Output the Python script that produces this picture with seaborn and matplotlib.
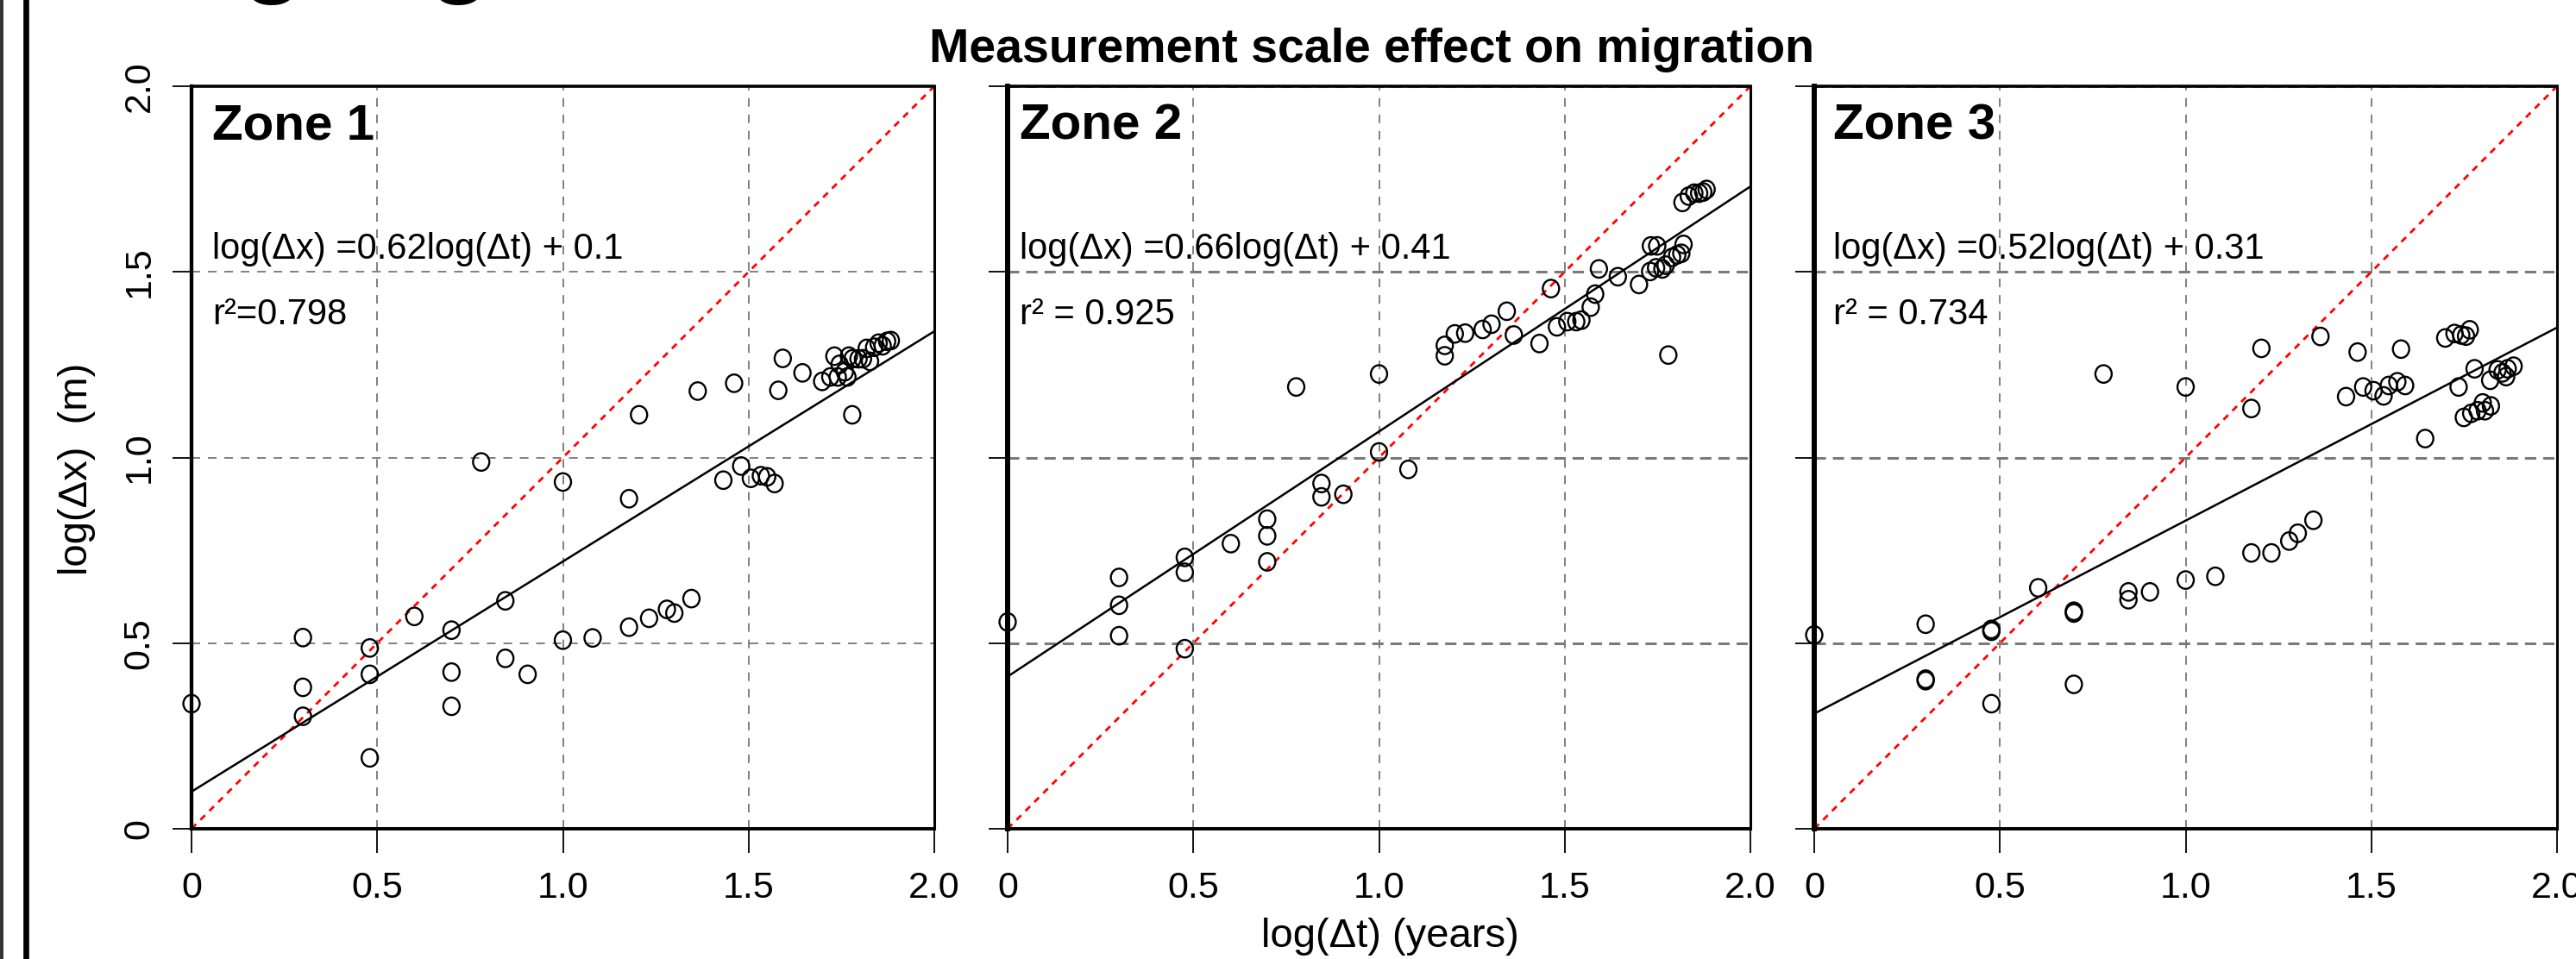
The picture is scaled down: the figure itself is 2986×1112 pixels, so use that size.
import matplotlib
matplotlib.use("Agg")
import numpy as np
import pandas as pd
import matplotlib.pyplot as plt
from matplotlib.path import Path
from matplotlib.transforms import Affine2D
from matplotlib.lines import Line2D
import seaborn as sns

# --- data (log10 of years / metres) ---
zones = ["Zone 1", "Zone 2", "Zone 3"]

x_zone1 = [0.0, 0.30, 0.30, 0.30, 0.48, 0.48, 0.48, 0.60, 0.70, 0.70, 0.70, 0.78, 0.845, 0.845,
           0.905, 1.0, 1.0, 1.08, 1.178, 1.178, 1.205, 1.232, 1.28, 1.30, 1.346, 1.363, 1.432,
           1.461, 1.48, 1.506, 1.533, 1.55, 1.57, 1.58, 1.592, 1.645, 1.698, 1.72, 1.731, 1.74,
           1.745, 1.759, 1.77, 1.766, 1.779, 1.78, 1.796, 1.808, 1.818, 1.827, 1.838, 1.85,
           1.861, 1.873, 1.883]
y_zone1 = [0.337, 0.515, 0.381, 0.303, 0.487, 0.416, 0.191, 0.572, 0.535, 0.422, 0.330, 0.988,
           0.614, 0.459, 0.416, 0.934, 0.508, 0.514, 0.889, 0.543, 1.115, 0.567, 0.591, 0.581,
           0.620, 1.179, 0.939, 1.200, 0.977, 0.944, 0.951, 0.948, 0.930, 1.181, 1.267, 1.228,
           1.205, 1.217, 1.273, 1.217, 1.251, 1.231, 1.273, 1.217, 1.115, 1.266, 1.266, 1.266,
           1.294, 1.259, 1.297, 1.308, 1.301, 1.313, 1.315]

x_zone2 = [0.0, 0.30, 0.30, 0.30, 0.477, 0.477, 0.477, 0.601, 0.699, 0.699, 0.699, 0.777, 0.845,
           0.845, 0.904, 1.0, 1.0, 1.079, 1.177, 1.177, 1.204, 1.232, 1.279, 1.303, 1.344, 1.363,
           1.432, 1.463, 1.479, 1.507, 1.531, 1.545, 1.570, 1.582, 1.592, 1.643, 1.70, 1.732,
           1.749, 1.730, 1.746, 1.763, 1.772, 1.779, 1.789, 1.803, 1.814, 1.82, 1.817, 1.834,
           1.849, 1.862, 1.873, 1.882]
y_zone2 = [0.557, 0.677, 0.602, 0.520, 0.731, 0.691, 0.485, 0.768, 0.834, 0.789, 0.719, 1.190,
           0.930, 0.894, 0.901, 1.225, 1.015, 0.968, 1.302, 1.274, 1.333, 1.335, 1.345, 1.359,
           1.394, 1.330, 1.307, 1.455, 1.352, 1.366, 1.366, 1.370, 1.405, 1.440, 1.508, 1.487,
           1.466, 1.570, 1.570, 1.501, 1.511, 1.508, 1.518, 1.276, 1.539, 1.546, 1.550, 1.574,
           1.687, 1.704, 1.712, 1.712, 1.715, 1.722]

x_zone3 = [0.0, 0.30, 0.30, 0.30, 0.477, 0.477, 0.477, 0.603, 0.699, 0.699, 0.699, 0.779, 0.846,
           0.846, 0.904, 1.0, 1.0, 1.08, 1.177, 1.177, 1.204, 1.231, 1.279, 1.302, 1.344, 1.363,
           1.432, 1.463, 1.478, 1.506, 1.533, 1.547, 1.570, 1.580, 1.591, 1.645, 1.699, 1.724,
           1.735, 1.742, 1.755, 1.765, 1.749, 1.769, 1.778, 1.786, 1.80, 1.806, 1.822, 1.82,
           1.840, 1.853, 1.863, 1.867, 1.883]
y_zone3 = [0.522, 0.551, 0.403, 0.399, 0.537, 0.532, 0.337, 0.649, 0.586, 0.581, 0.389, 1.225,
           0.638, 0.617, 0.638, 1.190, 0.670, 0.680, 1.132, 0.743, 1.294, 0.743, 0.775, 0.796,
           0.831, 1.326, 1.164, 1.284, 1.190, 1.180, 1.166, 1.194, 1.204, 1.292, 1.194, 1.051,
           1.322, 1.334, 1.190, 1.330, 1.327, 1.344, 1.108, 1.119, 1.239, 1.126, 1.147, 1.126,
           1.139, 1.208, 1.236, 1.228, 1.218, 1.239, 1.246]

slopes = [0.62, 0.66, 0.52]
intercepts = [0.1, 0.41, 0.31]
eq_labels = ["log(Δx) =0.62log(Δt) + 0.1",
             "log(Δx) =0.66log(Δt) + 0.41",
             "log(Δx) =0.52log(Δt) + 0.31"]
r2_labels = ["r²=0.798", "r² = 0.925", "r² = 0.734"]

ticks = [0, 0.5, 1.0, 1.5, 2.0]
tick_labels = ["0", "0.5", "1.0", "1.5", "2.0"]

df = pd.concat([
    pd.DataFrame({"zone": z, "log_t": xs, "log_x": ys})
    for z, xs, ys in zip(zones, [x_zone1, x_zone2, x_zone3], [y_zone1, y_zone2, y_zone3])
])

# --- style ---
sns.set_theme(style="ticks")
plt.rcParams["font.family"] = ["Liberation Sans", "DejaVu Sans"]
plt.rcParams["lines.scale_dashes"] = False
plt.rcParams["text.color"] = "black"
plt.rcParams["axes.labelcolor"] = "black"

W, H = 2986, 1112
fig = plt.figure(figsize=(W / 100, H / 100), dpi=100)

# open circle, slightly taller than wide
ring = Path.unit_circle().transformed(Affine2D().scale(0.93, 1.0))

lefts = [222, 1168, 2103]
text_x = [0.055, 0.033, 0.05]

for i, zone in enumerate(zones):
    ax = fig.add_axes([lefts[i] / W, 1 - 961 / H, 861 / W, 861 / H])
    sub = df[df["zone"] == zone]

    # grid
    ax.set_axisbelow(True)
    ax.xaxis.grid(True, color="#808080", lw=1.4, ls=(0, (7.2, 6.5)))
    if i == 0:
        ax.yaxis.grid(True, color="#808080", lw=1.4, ls=(0, (7.2, 6.5)))
    else:
        ax.yaxis.grid(True, color="#7a7a7a", lw=2.2, ls=(0, (9.4, 5.8)))

    # 1:1 line and fitted line
    ax.axline((0, 0), slope=1, color="red", lw=2.0, ls=(0, (5.5, 5.0)), zorder=2)
    ax.axline((0, intercepts[i]), slope=slopes[i], color="black", lw=1.8, zorder=2)

    sns.scatterplot(data=sub, x="log_t", y="log_x", ax=ax, marker=ring, s=215,
                    facecolors="none", edgecolor="black", linewidth=1.7,
                    clip_on=False, zorder=3)

    ax.set_xlim(0, 2)
    ax.set_ylim(0, 2)
    ax.set_xticks(ticks, tick_labels)
    ax.set_yticks(ticks, tick_labels)
    ax.tick_params(axis="x", length=20, width=1.3, pad=15, labelsize=31, colors="black")
    ax.tick_params(axis="y", length=16, width=1.3, pad=13, labelsize=31, colors="black",
                   labelrotation=90)
    for lab in ax.get_yticklabels():
        lab.set_verticalalignment("center")
    if i > 0:
        ax.tick_params(axis="y", labelleft=False)

    for side, w in zip(["top", "bottom", "right", "left"],
                       [2.6, 2.8, 2.2, 3.1 if i == 0 else 4.3]):
        ax.spines[side].set_linewidth(w)
        ax.spines[side].set_color("black")

    ax.set_xlabel("")
    ax.set_ylabel("")

    ax.text(text_x[i], 1.856, zone, fontsize=42, fontweight="bold", va="baseline")
    ax.text(text_x[i], 1.535, eq_labels[i], fontsize=30, va="baseline")
    ax.text(text_x[i], 1.36, r2_labels[i], fontsize=30, va="baseline")

    if i == 0:
        ax.set_ylabel("log(Δx)  (m)", fontsize=34, labelpad=22)
        ax.yaxis.label.set_y(0.484)
    if i == 1:
        ax.set_xlabel("log(Δt) (years)", fontsize=34, labelpad=10)
        ax.xaxis.label.set_x(0.515)

fig.text(0.5326, 0.935, "Measurement scale effect on migration",
         ha="center", va="baseline", fontsize=40, fontweight="bold")

# cropped heading from the page above
fig.text(136 / W, 1 + 19 / H, "Log-log", fontsize=85, fontweight="bold", va="baseline")

# page frame on the left edge
fig.add_artist(Line2D([2 / W, 2 / W], [0, 1], transform=fig.transFigure, color="#333333", lw=2.9))
fig.add_artist(Line2D([29.5 / W, 29.5 / W], [0, 1], transform=fig.transFigure, color="black", lw=4.8))

fig.savefig("out.png", dpi=100)
